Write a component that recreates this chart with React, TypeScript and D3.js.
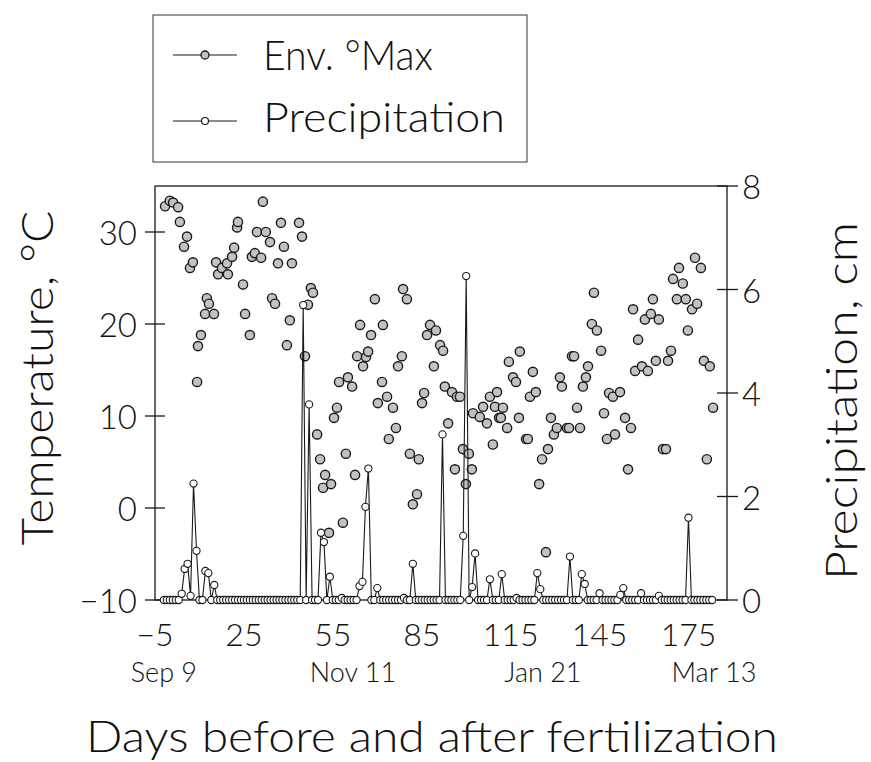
import React from "react";
import * as d3 from "d3";

// ---- data ----
const tempDays = [
  -1.6, 0.0, 1.1, 2.8, 3.4, 4.8, 5.8, 6.8, 7.8, 9.2, 9.5, 10.5, 11.9, 12.5, 13.2, 14.9, 15.6, 16.3, 17.6, 19.3,
  19.6, 21.0, 21.7, 22.7, 23.0, 24.7, 25.4, 27.0, 27.7, 28.7, 29.4, 30.8, 31.4, 32.4, 33.8, 34.5, 35.5, 36.5, 37.5, 38.5,
  39.5, 40.5, 41.2, 43.6, 44.6, 45.6, 46.6, 47.6, 48.3, 49.7, 50.7, 51.7, 52.4, 53.7, 54.4, 55.4, 56.4, 57.1, 58.4, 59.4,
  60.1, 61.5, 62.5, 63.2, 64.2, 65.2, 66.2, 66.9, 67.9, 69.2, 70.2, 71.6, 71.9, 73.3, 73.9, 75.3, 76.3, 77.0, 78.3, 78.7,
  80.0, 81.0, 82.0, 83.4, 84.0, 85.1, 85.8, 86.8, 87.8, 89.1, 89.8, 91.2, 92.2, 92.8, 93.9, 95.2, 96.2, 96.9, 97.9, 98.9,
  99.9, 100.9, 101.9, 102.3, 104.6, 105.7, 107.0, 108.0, 109.0, 109.7, 110.4, 111.1, 111.7, 112.4, 113.8, 114.4, 115.8, 116.8, 117.8, 118.1,
  120.2, 120.8, 121.5, 122.5, 123.5, 124.6, 125.6, 126.9, 127.6, 128.6, 129.6, 130.6, 131.6, 132.3, 134.0, 134.7, 135.7, 136.4, 137.4, 138.4,
  139.4, 140.4, 141.1, 142.4, 143.1, 144.1, 145.5, 146.5, 147.5, 148.2, 149.5, 150.2, 151.9, 153.6, 154.6, 155.6, 156.3, 157.0, 158.0, 159.3,
  160.3, 161.3, 162.3, 163.0, 164.0, 165.0, 166.4, 167.4, 168.1, 169.1, 169.8, 171.1, 171.8, 173.1, 174.1, 174.8, 176.2, 177.2, 177.9, 179.2,
  180.2, 181.2, 182.2, 183.3,
];
const tempMax = [
  32.8, 33.4, 33.2, 32.7, 31.1, 28.4, 29.5, 26.1, 26.7, 13.7, 17.6, 18.8, 21.1, 22.8, 22.2, 21.1, 26.7, 25.4, 26.1, 26.6,
  25.4, 27.3, 28.3, 30.5, 31.1, 24.3, 21.1, 18.8, 27.3, 27.7, 30.0, 27.2, 33.3, 30.0, 28.9, 22.8, 22.2, 26.6, 31.0, 28.4,
  17.7, 20.4, 26.6, 31.0, 29.5, 16.5, 22.1, 23.9, 23.4, 8.0, 5.3, 2.2, 3.6, -2.7, 2.6, 9.8, 10.9, 13.7, -1.6, 5.9,
  14.2, 13.2, 3.6, 16.5, 19.9, 15.4, 16.4, 17.0, 18.8, 22.7, 11.4, 13.7, 19.9, 12.1, 7.5, 10.9, 8.7, 15.4, 16.5, 23.8,
  22.7, 5.9, 0.4, 1.5, 5.3, 11.4, 12.5, 18.8, 19.9, 15.4, 19.3, 17.7, 17.1, 13.2, 9.2, 12.6, 4.2, 12.1, 12.1, 6.4,
  2.6, 5.9, 4.2, 10.3, 9.9, 11.0, 9.2, 12.1, 6.9, 11.0, 12.6, 9.8, 9.8, 10.9, 8.7, 15.9, 14.2, 13.7, 9.8, 17.0,
  7.5, 7.5, 12.1, 14.8, 12.6, 2.6, 5.3, -4.8, 6.4, 9.8, 8.0, 8.7, 14.2, 13.2, 8.7, 8.7, 16.5, 16.5, 10.9, 8.7,
  13.2, 14.2, 15.4, 20.0, 23.4, 19.3, 17.1, 10.3, 7.5, 12.5, 12.1, 8.0, 12.6, 9.8, 4.2, 8.7, 21.6, 14.9, 18.3, 15.4,
  20.5, 14.9, 21.1, 22.7, 16.0, 20.5, 6.4, 6.4, 16.0, 17.1, 24.9, 22.7, 26.1, 24.4, 22.7, 19.3, 21.6, 27.2, 22.2, 26.1,
  16.0, 5.3, 15.4, 10.9,
];

// daily precipitation (cm), first value is day -2
const precipStartDay = -2;
const precip = [
  0, 0, 0, 0, 0, 0, 0.12, 0.6, 0.7, 0.08, // -2..7
  2.25, 0.95, 0, 0, 0.56, 0.52, 0, 0.29, 0, 0, // 8..17
  0, 0, 0, 0, 0, 0, 0, 0, 0, 0, // 18..27
  0, 0, 0, 0, 0, 0, 0, 0, 0, 0, // 28..37
  0, 0, 0, 0, 0, 0, 0, 5.7, 0, 3.78, // 38..47
  0, 0, 0, 1.3, 1.12, 0, 0.45, 0, 0, 0, // 48..57
  0.04, 0, 0, 0, 0, 0, 0.27, 0.35, 1.8, 2.54, // 58..67
  0, 0, 0.23, 0, 0, 0, 0, 0, 0, 0, // 68..77
  0, 0.04, 0, 0, 0.7, 0, 0, 0, 0, 0, // 78..87
  0, 0, 0, 0, 3.2, 0, 0, 0, 0, 0, // 88..97
  0, 1.24, 6.26, 0, 0.25, 0.9, 0, 0, 0, 0, // 98..107
  0.4, 0, 0, 0, 0.5, 0, 0, 0, 0, 0.04, // 108..117
  0, 0, 0, 0, 0, 0, 0.52, 0.21, 0, 0, // 118..127
  0, 0, 0, 0, 0, 0, 0, 0.84, 0, 0, // 128..137
  0, 0.5, 0.31, 0, 0, 0, 0, 0.13, 0, 0, // 138..147
  0, 0, 0, 0, 0.1, 0.23, 0, 0, 0, 0, // 148..157
  0, 0.13, 0, 0, 0, 0, 0, 0.08, 0, 0, // 158..167
  0, 0, 0, 0, 0, 0, 0, 1.59, 0, 0, // 168..177
  0, 0, 0, 0, 0, 0, // 178..183
];

const xTicks = [-5, 25, 55, 85, 115, 145, 175];
const tempTicks = [-10, 0, 10, 20, 30];
const precipTicks = [0, 2, 4, 6, 8];
const dateLabels = ["Sep 9", "Nov 11", "Jan 21", "Mar 13"];
const dateLabelDays = [-2, 61.8, 125.9, 183.6];

const xLabel = "Days before and after fertilization";
const yLabelLeft = "Temperature, \u00B0C";
const yLabelRight = "Precipitation, cm";
const legendLabels = ["Env. \u00B0Max", "Precipitation"];

const W = 871;
const H = 762;
const FONT = "'Lato Light', Lato, 'DejaVu Sans', sans-serif";
const FW = 300;
const INK = "#111";

const fmt = (v: number) => (v < 0 ? "\u2212" + Math.abs(v) : String(v));

export default function App() {
  const x = d3.scaleLinear().domain([-5, 188]).range([155, 727]);
  const yT = d3.scaleLinear().domain([-10, 35]).range([600, 186]);
  const yP = d3.scaleLinear().domain([0, 8]).range([600, 186]);

  const precipPts = precip.map((v, i) => ({ day: precipStartDay + i, v }));
  const line = d3
    .line<{ day: number; v: number }>()
    .x((d) => x(d.day))
    .y((d) => yP(d.v));

  const tempPts = tempDays.map((d, i) => ({ day: d, v: tempMax[i] }));

  const tempFill = "#c2c2c2";
  const stroke = "#1a1a1a";

  const txt = { fontFamily: FONT, fontWeight: FW, fill: INK } as const;

  return (
    <svg width={W} height={H} style={{ position: "absolute", left: 0, top: 0, background: "#fff" }}>
      {/* legend */}
      <rect x={153} y={15} width={374} height={147} fill="none" stroke="#333" strokeWidth={1} />
      <line x1={173} x2={237} y1={55} y2={55} stroke={stroke} strokeWidth={1.2} />
      <circle cx={205} cy={55} r={4} fill={tempFill} stroke={stroke} strokeWidth={1.3} />
      <line x1={173} x2={237} y1={121} y2={121} stroke={stroke} strokeWidth={1.2} />
      <circle cx={205} cy={121} r={3.5} fill="#fff" stroke={stroke} strokeWidth={1.2} />
      <text x={263} y={70} fontSize={42} textLength={170} lengthAdjust="spacingAndGlyphs" {...txt}>
        {legendLabels[0]}
      </text>
      <text x={263} y={132} fontSize={42} textLength={242} lengthAdjust="spacingAndGlyphs" {...txt}>
        {legendLabels[1]}
      </text>

      {/* frame */}
      <rect x={155} y={186} width={572} height={414} fill="none" stroke={stroke} strokeWidth={1.3} />

      {/* left ticks */}
      {tempTicks.map((t) => (
        <g key={"lt" + t}>
          <line x1={145} x2={165} y1={yT(t)} y2={yT(t)} stroke={stroke} strokeWidth={1.3} />
          <text x={137} y={yT(t)} textAnchor="end" dominantBaseline="central" fontSize={33} {...txt}>
            {fmt(t)}
          </text>
        </g>
      ))}
      {/* right ticks */}
      {precipTicks.map((t) => (
        <g key={"rt" + t}>
          <line x1={717} x2={738} y1={yP(t)} y2={yP(t)} stroke={stroke} strokeWidth={1.3} />
          <text x={742} y={yP(t)} textAnchor="start" dominantBaseline="central" fontSize={33} {...txt}>
            {fmt(t)}
          </text>
        </g>
      ))}
      {/* x tick labels */}
      {xTicks.map((t) => (
        <text key={"xt" + t} x={x(t)} y={646} textAnchor="middle" fontSize={32} {...txt}>
          {fmt(t)}
        </text>
      ))}
      {dateLabels.map((s, i) => (
        <text key={s} x={x(dateLabelDays[i])} y={682} textAnchor="middle" fontSize={27} {...txt}>
          {s}
        </text>
      ))}

      {/* axis titles */}
      <text
        x={432}
        y={752}
        textAnchor="middle"
        fontSize={44}
        textLength={692}
        lengthAdjust="spacingAndGlyphs"
        {...txt}
      >
        {xLabel}
      </text>
      <text
        transform={`translate(53,378) rotate(-90)`}
        textAnchor="middle"
        fontSize={43}
        textLength={335}
        lengthAdjust="spacingAndGlyphs"
        {...txt}
      >
        {yLabelLeft}
      </text>
      <text
        transform={`translate(857,401) rotate(-90)`}
        textAnchor="middle"
        fontSize={43}
        textLength={358}
        lengthAdjust="spacingAndGlyphs"
        {...txt}
      >
        {yLabelRight}
      </text>

      {/* temperature points */}
      {tempPts.map((d, i) => (
        <circle key={"t" + i} cx={x(d.day)} cy={yT(d.v)} r={4.6} fill={tempFill} stroke={stroke} strokeWidth={1.4} />
      ))}

      {/* precipitation */}
      <path d={line(precipPts) || ""} fill="none" stroke={stroke} strokeWidth={1.1} />
      {precipPts.map((d, i) => (
        <circle key={"p" + i} cx={x(d.day)} cy={yP(d.v)} r={3.6} fill="#fff" stroke={stroke} strokeWidth={1.1} />
      ))}
    </svg>
  );
}
